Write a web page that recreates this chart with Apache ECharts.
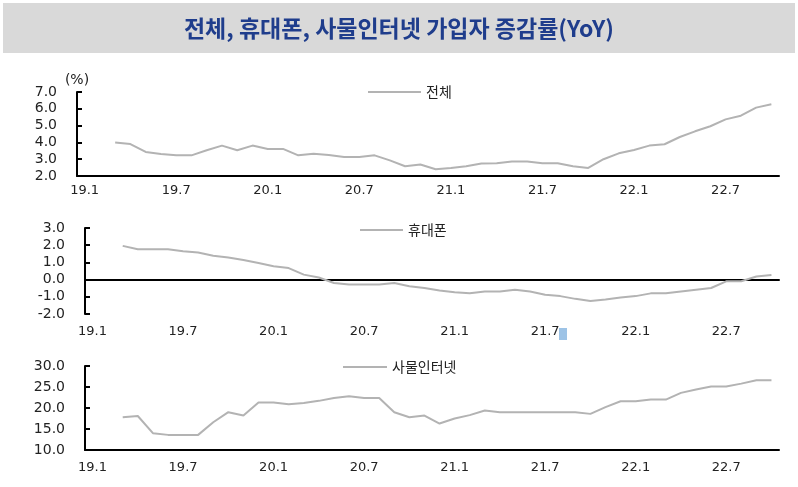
<!DOCTYPE html>
<html>
<head>
<meta charset="utf-8">
<script src="https://cdn.jsdelivr.net/npm/echarts@6/dist/echarts.min.js"></script>
<style>
  html, body { margin: 0; padding: 0; background: #fff; }
  #chart { width: 798px; height: 487px; }
</style>
</head>
<body>
<div id="chart"></div>
<script>
// months 19.1 ~ 22.10, data starts from 19.3
const months = [
  '19.1', '19.2', '19.3', '19.4', '19.5', '19.6', '19.7', '19.8', '19.9', '19.10', '19.11', '19.12',
  '20.1', '20.2', '20.3', '20.4', '20.5', '20.6', '20.7', '20.8', '20.9', '20.10', '20.11', '20.12',
  '21.1', '21.2', '21.3', '21.4', '21.5', '21.6', '21.7', '21.8', '21.9', '21.10', '21.11', '21.12',
  '22.1', '22.2', '22.3', '22.4', '22.5', '22.6', '22.7', '22.8', '22.9', '22.10'
];

const total = [null, null,
  4.0, 3.9, 3.43, 3.31, 3.23, 3.23, 3.53, 3.81, 3.53, 3.81,
  3.61, 3.61, 3.23, 3.33, 3.25, 3.13, 3.13, 3.23, 2.93, 2.58,
  2.68, 2.4, 2.48, 2.58, 2.74, 2.76, 2.87, 2.87, 2.76, 2.76,
  2.58, 2.48, 3.0, 3.35, 3.55, 3.81, 3.89, 4.32, 4.66, 4.96,
  5.37, 5.59, 6.07, 6.27
];

const phone = [null, null,
  1.96, 1.76, 1.76, 1.76, 1.65, 1.57, 1.39, 1.29, 1.14, 0.96,
  0.78, 0.67, 0.29, 0.12, -0.2, -0.29, -0.29, -0.29, -0.2, -0.39,
  -0.49, -0.63, -0.73, -0.8, -0.69, -0.69, -0.59, -0.69, -0.88, -0.96,
  -1.12, -1.25, -1.16, -1.04, -0.96, -0.8, -0.8, -0.69, -0.59, -0.49,
  -0.1, -0.1, 0.18, 0.27
];

const iot = [null, null,
  17.8, 18.1, 14.0, 13.6, 13.6, 13.6, 16.6, 19.0, 18.2, 21.3,
  21.3, 20.9, 21.2, 21.7, 22.4, 22.8, 22.4, 22.4, 19.0, 17.8,
  18.2, 16.3, 17.5, 18.3, 19.4, 19.0, 19.0, 19.0, 19.0, 19.0,
  19.0, 18.6, 20.2, 21.6, 21.6, 22.0, 22.0, 23.6, 24.4, 25.1,
  25.1, 25.8, 26.6, 26.6
];

const names = ['전체', '휴대폰', '사물인터넷'];

const chart = echarts.init(document.getElementById('chart'));

const labelStyle = { color: '#222', fontSize: 13, fontFamily: 'DejaVu Sans' };
const yLabelStyle = { color: '#222', fontSize: 14, fontFamily: 'DejaVu Sans' };
const lineColor = '#b3b3b3';

function xAxisFor(gridIndex, margin, opts) {
  return Object.assign({
    type: 'category',
    gridIndex: gridIndex,
    data: months,
    boundaryGap: true,
    position: 'bottom',
    axisLine: { onZero: false, lineStyle: { color: '#000', width: 2 } },
    axisTick: { inside: true, length: 5, lineStyle: { color: '#000', width: 2 } },
    axisLabel: Object.assign({ margin: margin, interval: (i) => i % 6 === 0 }, labelStyle),
    splitLine: { show: false }
  }, opts || {});
}

function yAxisFor(gridIndex, min, max, interval) {
  return {
    type: 'value',
    gridIndex: gridIndex,
    min: min,
    max: max,
    interval: interval,
    axisLine: { show: true, lineStyle: { color: '#000', width: 2 } },
    axisTick: { show: true, inside: true, length: 5, lineStyle: { color: '#000', width: 2 } },
    axisLabel: Object.assign({ margin: 20, formatter: (v) => v.toFixed(1) }, yLabelStyle),
    splitLine: { show: false }
  };
}

function legendFor(name, left, top, width) {
  return {
    data: [name],
    left: left,
    top: top,
    icon: 'rect',
    itemWidth: width,
    itemHeight: 2,
    itemGap: 0,
    selectedMode: false,
    textStyle: { color: '#222', fontSize: 14, fontFamily: 'Noto Sans CJK KR' }
  };
}

function lineSeries(name, data, xi, yi) {
  return {
    name: name,
    type: 'line',
    data: data,
    xAxisIndex: xi,
    yAxisIndex: yi,
    symbol: 'none',
    lineStyle: { color: lineColor, width: 2 },
    itemStyle: { color: lineColor },
    connectNulls: false
  };
}

chart.setOption({
  animation: false,
  backgroundColor: '#fff',
  title: {
    text: '전체, 휴대폰, 사물인터넷 가입자 증감률(YoY)',
    left: 'center',
    top: 12,
    textStyle: { color: '#1f3d8c', fontSize: 23, fontWeight: 'bold', fontFamily: 'Noto Sans CJK KR' }
  },
  graphic: [
    { type: 'rect', z: -10, shape: { x: 3, y: 3, width: 792, height: 50 }, style: { fill: '#d9d9d9' } },
    { type: 'rect', shape: { x: 559, y: 328, width: 8, height: 12 }, style: { fill: '#9dc3e6' } }
  ],
  legend: [
    legendFor(names[0], 363, 80, 53),
    legendFor(names[1], 355, 218, 43),
    legendFor(names[2], 338, 355, 44)
  ],
  grid: [
    { left: 77, right: 19, top: 92, height: 84 },
    { left: 85, right: 19, top: 228, height: 86 },
    { left: 85, right: 19, top: 366, height: 84 }
  ],
  xAxis: [
    xAxisFor(0, 8),
    xAxisFor(1, 10, { axisLine: { onZero: true, lineStyle: { color: '#000', width: 2 } }, axisLabel: { show: false } }),
    xAxisFor(1, 11, { axisLine: { show: false }, axisTick: { show: false } }),
    xAxisFor(2, 11)
  ],
  yAxis: [
    Object.assign(yAxisFor(0, 2, 7, 1), {
      name: '(%)',
      nameLocation: 'end',
      nameGap: 5,
      nameTextStyle: { color: '#222', fontSize: 14, fontFamily: 'DejaVu Sans', align: 'center' }
    }),
    yAxisFor(1, -2, 3, 1),
    yAxisFor(2, 10, 30, 5)
  ],
  series: [
    lineSeries(names[0], total, 0, 0),
    lineSeries(names[1], phone, 1, 1),
    lineSeries(names[2], iot, 3, 2)
  ]
});
</script>
</body>
</html>
